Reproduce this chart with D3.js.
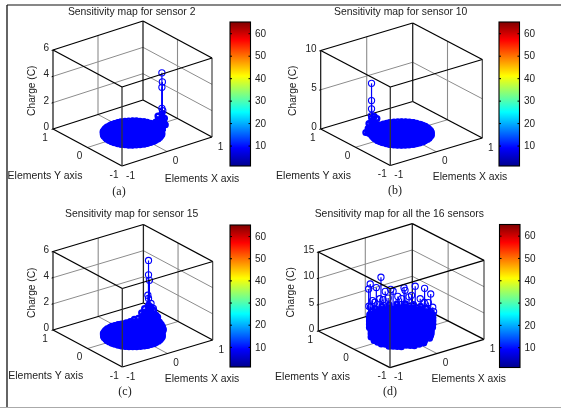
<!DOCTYPE html>
<html><head><meta charset="utf-8">
<script src="https://d3js.org/d3.v7.min.js"></script>
<style>html,body{margin:0;padding:0;background:#fff}svg{display:block;filter:blur(0.45px)}</style>
</head><body><svg id="c" width="561" height="409"></svg>
<script>
// ---- data ----
const titles = ["Sensitivity map for sensor 2","Sensitivity map for sensor 10","Sensitivity map for sensor 15","Sensitivity map for all the 16 sensors"];
const captions = ["(a)","(b)","(c)","(d)"];
const zMaxes = [6,10,6,15];
const zTicks = [[0,2,4,6],[0,5,10],[0,2,4,6],[0,5,10,15]];
const xyTicks = [-1,0,1];
const colorTicks = [10,20,30,40,50,60];
const colorDomain = [0.9,65];
const jetColors = ["#00008f","#0000ff","#0080ff","#00ffff","#80ff80","#ffff00","#ff8000","#ff0000","#800000"];
// element positions on the floor, two interleaved meshes
const gridRowY = [-0.5,-0.4,-0.3,-0.2,-0.1,0,0.1,0.2,0.3,0.4,0.5];
const gridRowX = [
 [-0.1,0,0.1],
 [-0.3,-0.2,-0.1,0,0.1,0.2,0.3],
 [-0.4,-0.3,-0.2,-0.1,0,0.1,0.2,0.3,0.4],
 [-0.4,-0.3,-0.2,-0.1,0,0.1,0.2,0.3,0.4],
 [-0.5,-0.4,-0.3,-0.2,-0.1,0,0.1,0.2,0.3,0.4,0.5],
 [-0.5,-0.4,-0.3,-0.2,-0.1,0,0.1,0.2,0.3,0.4,0.5],
 [-0.5,-0.4,-0.3,-0.2,-0.1,0,0.1,0.2,0.3,0.4,0.5],
 [-0.4,-0.3,-0.2,-0.1,0,0.1,0.2,0.3,0.4],
 [-0.4,-0.3,-0.2,-0.1,0,0.1,0.2,0.3,0.4],
 [-0.3,-0.2,-0.1,0,0.1,0.2,0.3],
 [-0.1,0,0.1]];
const midRowY = [-0.45,-0.35,-0.25,-0.15,-0.05,0.05,0.15,0.25,0.35,0.45];
const midRowX = [
 [-0.15,-0.05,0.05,0.15],
 [-0.35,-0.25,-0.15,-0.05,0.05,0.15,0.25,0.35],
 [-0.45,-0.35,-0.25,-0.15,-0.05,0.05,0.15,0.25,0.35,0.45],
 [-0.45,-0.35,-0.25,-0.15,-0.05,0.05,0.15,0.25,0.35,0.45],
 [-0.45,-0.35,-0.25,-0.15,-0.05,0.05,0.15,0.25,0.35,0.45],
 [-0.45,-0.35,-0.25,-0.15,-0.05,0.05,0.15,0.25,0.35,0.45],
 [-0.45,-0.35,-0.25,-0.15,-0.05,0.05,0.15,0.25,0.35,0.45],
 [-0.45,-0.35,-0.25,-0.15,-0.05,0.05,0.15,0.25,0.35,0.45],
 [-0.35,-0.25,-0.15,-0.05,0.05,0.15,0.25,0.35],
 [-0.15,-0.05,0.05,0.15]];
const rimX = [0.52,0.516,0.50,0.48,0.45,0.41,0.37,0.317,0.26,0.2,0.13,0.068,0,-0.068,-0.13,-0.2,-0.26,-0.317,-0.37,-0.41,-0.45,-0.48,-0.50,-0.516,-0.52,-0.516,-0.50,-0.48,-0.45,-0.41,-0.37,-0.317,-0.26,-0.2,-0.13,-0.068,0,0.068,0.13,0.2,0.26,0.317,0.37,0.41,0.45,0.48,0.50,0.516];
const rimY = [0,0.068,0.13,0.2,0.26,0.317,0.37,0.41,0.45,0.48,0.50,0.516,0.52,0.516,0.50,0.48,0.45,0.41,0.37,0.317,0.26,0.2,0.13,0.068,0,-0.068,-0.13,-0.2,-0.26,-0.317,-0.37,-0.41,-0.45,-0.48,-0.50,-0.516,-0.52,-0.516,-0.50,-0.48,-0.45,-0.41,-0.37,-0.317,-0.26,-0.2,-0.13,-0.068];
const upperRimX = [0.54,0.52,0.47,0.38,0.27,0.14,0,-0.14,-0.27,-0.38,-0.47,-0.52,-0.54,-0.52,-0.47,-0.38,-0.27,-0.14,0,0.14,0.27,0.38,0.47,0.52];
const upperRimY = [0,0.14,0.27,0.38,0.47,0.52,0.54,0.52,0.47,0.38,0.27,0.14,0,-0.14,-0.27,-0.38,-0.47,-0.52,-0.54,-0.52,-0.47,-0.38,-0.27,-0.14];
// distinct high readings [x,y,z]
const sensor2Peaks = [[0.5,-0.2,4.3],[0.51,-0.2,3.6],[0.5,-0.2,3.2],[0.5,-0.2,1.6],[0.52,-0.2,1.4]];
const sensor10Peaks = [[-0.5,0.2,6.8],[-0.5,0.2,4.6],[-0.5,0.2,3.55],[-0.5,0.2,2.7]];
const sensor15Peaks = [[0.5,0.2,4.9],[0.5,0.2,3.8],[0.52,0.2,3.36],[0.47,0.18,2.3],[0.54,0.18,1.6],[0.56,0.14,1.25],[0.5,0.2,2.0]];
const allPeaks = [[-0.01,0.55,9.1],[-0.315,0.45,9.0],[-0.44,0.33,8.8],[-0.12,0.535,7.5],[0.077,0.545,6.2],[0.175,0.52,6.4],[0.215,0.506,6.0],[0.37,0.405,6.6],[0.383,0.394,6.1],[0.49,0.25,7.1],[0.546,0.062,7.2],[0.536,-0.122,6.8],[0.45,0.3,5.3],
 [-0.5,0.2,6.0],[-0.53,0.1,5.0],[-0.54,0,4.5],[-0.42,0.35,5.4],[-0.25,0.47,5.6],[-0.18,0.5,5.0],[-0.05,0.53,5.2],[0.03,0.54,4.8],[0.12,0.52,4.9],[0.28,0.46,5.0],[0.33,0.42,4.6],[0.42,0.33,5.0],[0.52,0.15,5.0],[0.53,0.05,4.6],[0.54,-0.05,4.9],[0.52,-0.2,4.6],[0.5,-0.25,4.0]];
// packed low readings around each sensor [x,y,z]
const sensor2Packed = [[0.5,-0.2,1.2],[0.5,-0.2,0.8],[0.5,-0.2,0.4],[0.45,-0.15,1.0],[0.45,-0.15,0.5],[0.55,-0.15,0.7],[0.55,-0.15,0.3],[0.52,-0.25,0.9],[0.52,-0.25,0.4],[0.5,-0.1,0.6],[0.5,-0.1,0.3],[0.55,-0.2,0.4],[0.5,-0.3,0.5],[0.45,-0.25,0.4],[0.44,-0.1,0.5],[0.48,-0.05,0.3]];
const sensor10Packed = [[-0.5,0.2,2.4],[-0.5,0.2,1.8],[-0.5,0.2,1.2],[-0.5,0.2,0.6],[-0.48,0.15,2.7],[-0.48,0.15,1.8],[-0.48,0.15,0.9],[-0.42,0.15,2.3],[-0.42,0.15,1.4],[-0.42,0.15,0.7],[-0.52,0.25,1.6],[-0.52,0.25,0.8],[-0.55,0.2,1.0],[-0.55,0.2,0.5],[-0.45,0.1,1.5],[-0.45,0.1,0.7],[-0.55,0.1,0.7],[-0.4,0.2,1.4],[-0.4,0.2,0.7],[-0.5,0.3,0.8],[-0.5,0.3,0.4],[-0.55,0.3,0.4]];
const sensor15Packed = [[0.5,0.2,0.3],[0.5,0.2,0.6],[0.5,0.2,0.9],[0.5,0.2,1.2],[0.5,0.2,1.5],
 [0.45,0.25,0.3],[0.45,0.25,0.6],[0.45,0.25,0.9],[0.45,0.25,1.2],[0.4,0.27,0.3],[0.4,0.27,0.6],[0.4,0.27,0.9],
 [0.35,0.3,0.2],[0.35,0.3,0.5],[0.3,0.35,0.2],[0.3,0.35,0.4],[0.25,0.4,0.2],[0.2,0.45,0.1],
 [0.52,0.15,0.3],[0.52,0.15,0.6],[0.52,0.15,0.9],[0.52,0.15,1.2],[0.52,0.15,1.4],
 [0.54,0.1,0.3],[0.54,0.1,0.6],[0.54,0.1,0.9],[0.54,0.1,1.2],[0.55,0.05,0.3],[0.55,0.05,0.6],[0.55,0.05,0.9],
 [0.55,0,0.3],[0.55,0,0.6],[0.55,0,0.8],[0.55,-0.05,0.25],[0.55,-0.05,0.5],[0.55,-0.1,0.2],[0.55,-0.1,0.4],
 [0.54,-0.15,0.15],[0.54,-0.15,0.3],[0.52,-0.2,0.1],[0.52,-0.2,0.2],
 [0.48,0.1,0.4],[0.48,0.1,0.8],[0.48,0.1,1.1],[0.44,0.15,0.4],[0.44,0.15,0.8],[0.44,0.15,1.1]];
const gridLevels = [0.6,1.2,1.8,2.4,3.0];
const upperLevels = [1.8,2.4,3.0,3.6];
// ---- layout (pixels) ----
const boxFront = [[122,166],[390.3,165.5],[122.3,367],[390,367.7]];
const boxRight = [[212,137],[482.3,138],[212.7,340],[484,339.3]];
const boxLeft = [[53,129],[320.7,129],[53,330],[318.3,331]];
const boxHeight = [79,78.5,78.5,79];
const barX = [230,499,230,499.5];
const barY = [[22,166],[22,166],[225,367],[224.5,367.5]];
const titlePos = [[131.7,15.3],[400.7,15.3],[131.7,217.3],[399.3,217.3]];
const capPos = [[119,195],[395,194],[125,395],[390,395]];
const yLabPos = [[45,178.5],[313.5,178.5],[45.7,379],[312.5,380]];
const xLabPos = [[202,181.5],[470,180],[202,382],[468.8,382]];
const zLabPos = [[35.2,90.7],[296.2,90.7],[35.2,292.7],[293.5,292.3]];

const FONT = "'Liberation Sans',Arial,sans-serif";
const svg = d3.select("#c");
svg.append("line").attr("x1",7).attr("x2",7).attr("y1",5).attr("y2",407).attr("stroke","#111").attr("stroke-width",1.3);
svg.append("line").attr("x1",7).attr("x2",561).attr("y1",5).attr("y2",5).attr("stroke","#111").attr("stroke-width",1.1);
svg.append("line").attr("x1",0).attr("x2",561).attr("y1",407.5).attr("y2",407.5).attr("stroke","#aaa").attr("stroke-width",1);

const defs = svg.append("defs");
const grad = defs.append("linearGradient").attr("id","jet").attr("x1",0).attr("x2",0).attr("y1",1).attr("y2",0);
jetColors.forEach((c,i)=>grad.append("stop").attr("offset",i/(jetColors.length-1)).attr("stop-color",c));

const floorPts = [];
gridRowY.forEach((y,i)=>gridRowX[i].forEach(x=>floorPts.push([x,y,0])));
midRowY.forEach((y,i)=>midRowX[i].forEach(x=>floorPts.push([x,y,0])));
const rimPts = rimX.map((x,i)=>[x,rimY[i],0]);
const upperPts = [];
upperLevels.forEach(z=>upperRimX.forEach((x,i)=>upperPts.push([x,upperRimY[i],z])));
const gridBody = [];
gridLevels.forEach(z=>floorPts.forEach(p=>gridBody.push([p[0],p[1],z])));

const packedPoints = [
 floorPts.concat(rimPts,sensor2Packed),
 floorPts.concat(rimPts,sensor10Packed),
 floorPts.concat(rimPts,sensor15Packed),
 floorPts.concat(gridBody,upperPts)
];
const peakPoints = [sensor2Peaks,sensor10Peaks,sensor15Peaks,allPeaks];

titles.forEach((title,i)=>{
  const F=boxFront[i],R=boxRight[i],L=boxLeft[i],H=boxHeight[i];
  const sxX=d3.scaleLinear([-1,1],[0,R[0]-F[0]]), sxY=d3.scaleLinear([-1,1],[0,R[1]-F[1]]);
  const syX=d3.scaleLinear([-1,1],[0,L[0]-F[0]]), syY=d3.scaleLinear([-1,1],[0,L[1]-F[1]]);
  const sz=d3.scaleLinear([0,zMaxes[i]],[0,H]);
  const P=(x,y,z)=>[F[0]+sxX(x)+syX(y), F[1]+sxY(x)+syY(y)-sz(z)];
  const g=svg.append("g");
  const seg=(a,b,col,w)=>{const p=P(...a),q=P(...b);g.append("line").attr("x1",p[0]).attr("y1",p[1]).attr("x2",q[0]).attr("y2",q[1]).attr("stroke",col).attr("stroke-width",w);};
  const zt=zMaxes[i], GREY="#8c8c8c";
  zTicks[i].slice(1,-1).forEach(z=>{seg([-1,1,z],[1,1,z],GREY,1);seg([1,1,z],[1,-1,z],GREY,1);});
  seg([0,1,0],[0,1,zt],GREY,1.1);seg([1,0,0],[1,0,zt],GREY,1.1);
  seg([0,-1,0],[0,1,0],GREY,1);seg([-1,0,0],[1,0,0],GREY,1);
  seg([-1,1,0],[1,1,0],"#000",1.3);seg([1,1,0],[1,-1,0],"#000",1.3);seg([1,1,0],[1,1,zt],"#222",1.3);
  const packed=packedPoints[i], peaks=peakPoints[i];
  g.append("g").selectAll("line").data(packed.concat(peaks).filter(d=>d[2]>0)).join("line")
    .attr("x1",d=>P(d[0],d[1],0)[0]).attr("y1",d=>P(d[0],d[1],0)[1])
    .attr("x2",d=>P(...d)[0]).attr("y2",d=>P(...d)[1])
    .attr("stroke","#0000ff").attr("stroke-width",1.2);
  g.append("g").selectAll("circle").data(packed).join("circle")
    .attr("cx",d=>P(...d)[0]).attr("cy",d=>P(...d)[1]).attr("r",2.3)
    .attr("fill","none").attr("stroke","#0000ff").attr("stroke-width",2.4);
  g.append("g").selectAll("circle").data(peaks).join("circle")
    .attr("cx",d=>P(...d)[0]).attr("cy",d=>P(...d)[1]).attr("r",3.1)
    .attr("fill","none").attr("stroke","#0000ff").attr("stroke-width",1.1);
  seg([-1,-1,0],[1,-1,0],"#000",1.3);seg([-1,-1,0],[-1,1,0],"#000",1.3);
  seg([-1,1,0],[-1,1,zt],"#111",1.2);seg([1,-1,0],[1,-1,zt],"#333",1.1);seg([-1,-1,0],[-1,-1,zt],"#333",1.3);
  seg([-1,1,zt],[1,1,zt],"#000",1.3);seg([1,1,zt],[1,-1,zt],"#000",1.3);seg([1,-1,zt],[-1,-1,zt],"#000",1.3);seg([-1,-1,zt],[-1,1,zt],"#000",1.3);
  const txt=(x,y,s,sz_,anchor,extra)=>{const t=g.append("text").attr("x",x).attr("y",y).text(s).attr("font-family",FONT).attr("font-size",sz_).attr("fill","#222").attr("text-anchor",anchor||"middle");if(extra)t.attr("transform",extra);return t;};
  zTicks[i].forEach(z=>{const p=P(-1,1,z);seg([-1,1,z],[-1.03,1,z],"#000",1);txt(p[0]-4,p[1]+1,z,10,"end");});
  xyTicks.forEach(v=>{const p=P(v,-1,0);txt(p[0]+8.5,p[1]+12.5,v,10);const q=P(-1,v,0);txt(q[0]-8,q[1]+11.5,v,10);});
  txt(titlePos[i][0],titlePos[i][1],title,10.4);
  txt(capPos[i][0],capPos[i][1],captions[i],12).attr("font-family","'Liberation Serif',serif");
  txt(yLabPos[i][0],yLabPos[i][1],"Elements Y axis",10.5);
  txt(xLabPos[i][0],xLabPos[i][1],"Elements X axis",10.4);
  txt(0,0,"Charge (C)",10.2,"middle",`translate(${zLabPos[i][0]},${zLabPos[i][1]}) rotate(-90)`);
  const bw=20.5,by=barY[i],cs=d3.scaleLinear(colorDomain,[by[1],by[0]]);
  const cb=svg.append("g").attr("transform",`translate(${barX[i]},0)`);
  cb.append("rect").attr("y",by[0]).attr("width",bw).attr("height",by[1]-by[0]).attr("fill","url(#jet)").attr("stroke","#000").attr("stroke-width",1.1);
  const ax=cb.append("g").attr("transform",`translate(${bw},0)`).call(d3.axisRight(cs).tickValues(colorTicks).tickSize(-2).tickPadding(4.5));
  ax.select(".domain").remove();
  ax.selectAll("text").attr("font-family",FONT).attr("font-size",10).attr("fill","#222");
  const al=cb.append("g").call(d3.axisLeft(cs).tickValues(colorTicks).tickSize(-2).tickFormat(""));
  al.select(".domain").remove();
});
</script></body></html>
